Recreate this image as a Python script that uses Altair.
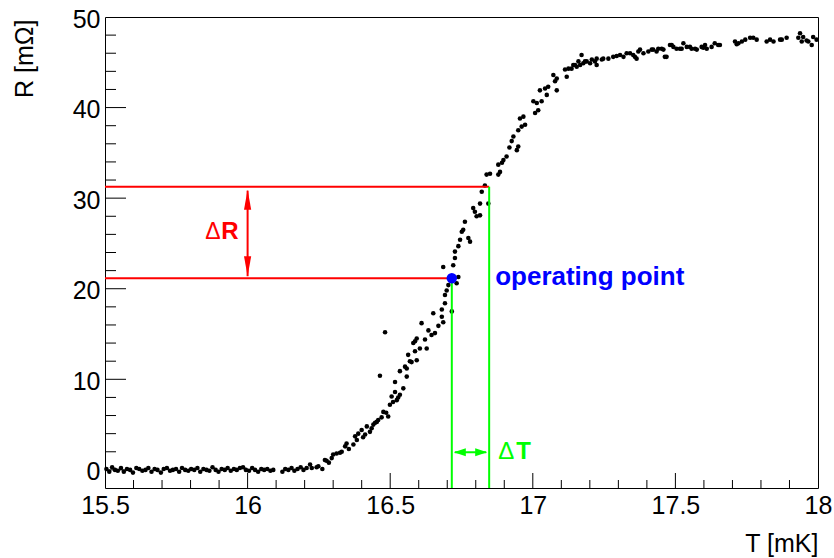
import altair as alt
import pandas as pd

# ---------------- data ----------------
T_FLAT = [15.505, 15.515, 15.525, 15.535, 15.545, 15.556, 15.566, 15.577, 15.588, 15.598,
          15.610, 15.620, 15.631, 15.642, 15.652, 15.663, 15.674, 15.684, 15.696, 15.706,
          15.717, 15.728, 15.738, 15.749, 15.760, 15.770, 15.781, 15.792, 15.802, 15.813,
          15.824, 15.834, 15.845, 15.856, 15.866, 15.877, 15.888, 15.898, 15.909, 15.920,
          15.930, 15.941, 15.952, 15.962, 15.973, 15.984, 15.994, 16.005, 16.016, 16.026,
          16.037, 16.048, 16.058, 16.069, 16.080, 16.090, 16.122, 16.132, 16.143, 16.154,
          16.164, 16.175, 16.186, 16.196, 16.207]
R_FLAT = [0.1, -0.2, 0.3, 0.0, -0.1, 0.2, -0.2, 0.1, 0.0, -0.3,
          0.2, 0.1, -0.1, 0.0, 0.2, -0.2, 0.1, 0.0, -0.3, 0.1,
          0.2, -0.1, 0.0, 0.1, -0.2, 0.2, 0.0, -0.1, 0.1, 0.0,
          0.2, -0.2, 0.1, 0.0, -0.1, 0.3, 0.0, -0.2, 0.1, 0.0,
          0.2, -0.1, 0.1, 0.0, 0.2, 0.3, 0.0, -0.1, 0.2, 0.0,
          -0.2, 0.1, 0.0, 0.1, -0.1, 0.0, -0.2, 0.1, 0.0, 0.2,
          -0.1, 0.1, 0.3, 0.0, 0.2]

T_RISE = [16.219, 16.225, 16.242, 16.248, 16.262, 16.271, 16.277, 16.285, 16.295, 16.300,
          16.312, 16.324, 16.330, 16.342, 16.347, 16.355, 16.371, 16.377, 16.383, 16.388,
          16.400, 16.405, 16.412, 16.418, 16.429, 16.435, 16.441, 16.447, 16.453, 16.458,
          16.464, 16.470, 16.476, 16.482, 16.486, 16.493, 16.499, 16.505, 16.510, 16.517,
          16.517, 16.523, 16.528, 16.534, 16.534, 16.546, 16.552, 16.558, 16.558, 16.563,
          16.569, 16.575, 16.581, 16.587, 16.587, 16.593, 16.593, 16.604, 16.610, 16.622,
          16.628, 16.634, 16.645, 16.651, 16.657, 16.669, 16.681, 16.681, 16.686, 16.692,
          16.692, 16.698, 16.686, 16.704, 16.716, 16.733, 16.739, 16.721, 16.727, 16.727,
          16.739, 16.745, 16.751, 16.756, 16.762, 16.774, 16.780, 16.791, 16.797, 16.803,
          16.815, 16.815, 16.821, 16.832, 16.844, 16.838, 16.850, 16.879, 16.885, 16.879,
          16.897, 16.908, 16.944, 16.949, 16.926, 16.932, 16.949, 16.961, 16.955, 16.973,
          16.967, 17.008, 17.019, 17.002, 17.014, 17.031, 17.049, 17.025, 17.043, 17.054,
          17.084, 17.078, 17.084, 17.072, 16.892, 16.918]
R_RISE = [0.6, 0.2, 0.3, 0.4, 0.1, 1.1, 1.0, 0.8, 1.3, 1.7,
          1.8, 1.9, 2.0, 2.6, 2.9, 2.3, 2.8, 3.7, 3.3, 4.0,
          4.4, 3.6, 3.9, 4.8, 4.2, 4.6, 5.0, 5.2, 5.3, 5.5,
          10.4, 5.8, 6.4, 15.2, 6.3, 5.9, 7.2, 8.1, 7.5, 8.6,
          9.7, 7.7, 8.0, 8.3, 10.9, 9.0, 11.4, 10.3, 11.2, 12.7,
          12.0, 11.9, 14.0, 13.1, 14.2, 14.5, 12.1, 13.4, 16.2, 14.4,
          13.4, 15.4, 14.9, 17.3, 15.1, 15.9, 16.9, 17.7, 16.3, 18.4,
          19.3, 19.8, 22.4, 20.4, 17.5, 20.6, 21.3, 22.6, 23.4, 24.1,
          24.7, 25.4, 26.3, 26.5, 27.4, 25.6, 25.2, 28.9, 28.5, 28.0,
          28.1, 29.4, 30.7, 31.4, 29.4, 32.6, 32.7, 32.6, 32.9, 33.7,
          34.2, 34.6, 35.3, 35.7, 36.3, 36.8, 37.5, 37.9, 38.8, 38.1,
          39.0, 39.4, 39.7, 40.7, 40.5, 40.7, 41.4, 41.9, 42.1, 42.3,
          41.9, 42.9, 43.2, 43.6, 33.9, 35.6]

T_TOP = [17.113, 17.119, 17.125, 17.142, 17.148, 17.160, 17.183, 17.201, 17.207, 17.224,
         17.224, 17.242, 17.247, 17.265, 17.282, 17.294, 17.306, 17.318, 17.329, 17.341,
         17.352, 17.358, 17.364, 17.370, 17.376, 17.388, 17.405, 17.417, 17.422, 17.434,
         17.440, 17.452, 17.458, 17.463, 17.469, 17.481, 17.487, 17.493, 17.504, 17.516,
         17.522, 17.528, 17.540, 17.551, 17.557, 17.569, 17.575, 17.592, 17.598, 17.604,
         17.610, 17.627, 17.638, 17.650, 17.656, 17.709, 17.715, 17.721, 17.733, 17.745,
         17.762, 17.773, 17.785, 17.820, 17.832, 17.844, 17.867, 17.873, 17.890, 17.931,
         17.937, 17.943, 17.948, 17.960, 17.966, 17.978, 17.983, 17.995, 17.136, 17.154,
         17.166, 17.171, 17.177, 17.189, 17.218]
R_TOP = [44.2, 43.4, 44.3, 44.7, 44.7, 45.1, 45.1, 44.9, 45.3, 44.7,
         45.4, 45.3, 45.4, 45.4, 45.6, 45.7, 45.8, 45.6, 46.0, 46.0,
         45.8, 45.6, 45.4, 46.2, 46.4, 46.0, 46.2, 46.4, 46.4, 46.2,
         46.5, 46.5, 46.4, 45.6, 45.6, 46.9, 46.9, 46.7, 46.5, 46.5,
         46.5, 47.1, 46.7, 46.7, 46.5, 46.5, 46.4, 46.7, 46.6, 46.9,
         46.5, 46.7, 47.1, 46.9, 46.9, 47.3, 47.0, 47.1, 47.3, 47.5,
         47.7, 47.7, 47.5, 47.3, 47.5, 47.3, 47.5, 47.5, 47.7, 47.7,
         48.2, 47.3, 47.8, 47.4, 47.3, 46.9, 47.8, 47.5, 44.3, 44.5,
         44.7, 45.8, 44.9, 45.1, 45.1]

# annotation values
T_OP, R_OP = 16.716, 21.16      # operating point
T_HI, R_HI = 16.847, 31.27      # upper working point
T_DR = 16.0                     # position of the Delta R arrow
R_DT = 1.95                     # height of the Delta T arrow
T_MIN, T_MAX = 15.5, 18.0
R_MIN, R_MAX = -2.0, 50.0

# axis ticks
X_MAJOR = [15.5, 16.0, 16.5, 17.0, 17.5, 18.0]
X_MINOR = [15.6, 15.7, 15.8, 15.9, 16.1, 16.2, 16.3, 16.4, 16.6, 16.7, 16.8, 16.9,
           17.1, 17.2, 17.3, 17.4, 17.6, 17.7, 17.8, 17.9]
Y_MAJOR = [0, 10, 20, 30, 40, 50]
Y_MINOR = [2, 4, 6, 8, 12, 14, 16, 18, 22, 24, 26, 28, 32, 34, 36, 38, 42, 44, 46, 48]

# ---------------- chart ----------------
W, H = 713, 471
FONT = "Liberation Sans"
RED, GREEN, BLUE = "#ff0000", "#00ff00", "#0000ff"

xs = alt.Scale(domain=[T_MIN, T_MAX], nice=False, zero=False)
ys = alt.Scale(domain=[R_MIN, R_MAX], nice=False, zero=False)

xaxis = alt.Axis(values=X_MAJOR, labelExpr="datum.value + ''", title="T [mK]",
                 ticks=False, tickSize=0, domain=False, grid=False,
                 labelFont=FONT, labelFontSize=25, labelColor="black",
                 labelBaseline="alphabetic", labelPadding=25, labelFlush=False,
                 labelOverlap=False, labelBound=False,
                 titleFont=FONT, titleFontSize=25, titleFontWeight="normal", titleColor="black",
                 titleAlign="right", titleBaseline="alphabetic", titleX=W, titleY=63, titleAngle=0)
yaxis = alt.Axis(values=Y_MAJOR, title="R [mΩ]",
                 ticks=False, tickSize=0, domain=False, grid=False,
                 labelFont=FONT, labelFontSize=25, labelColor="black",
                 labelBaseline="middle", labelPadding=5, labelOffset=2,
                 labelOverlap=False, labelBound=False,
                 titleFont=FONT, titleFontSize=25, titleFontWeight="normal", titleColor="black",
                 titleAngle=270, titleAlign="right", titleBaseline="alphabetic",
                 titleX=-73, titleY=2)


def X(field):
    return alt.X(field, scale=xs, axis=xaxis)


def Y(field):
    return alt.Y(field, scale=ys, axis=yaxis)


pts = pd.DataFrame({"T": T_FLAT + T_RISE + T_TOP, "R": R_FLAT + R_RISE + R_TOP})

points = alt.Chart(pts).mark_circle(size=21, color="black", opacity=1).encode(
    x=X("T:Q"), y=Y("R:Q"))

# inward tick marks (ROOT style)
xmaj = alt.Chart(pd.DataFrame({"t": X_MAJOR[1:-1]})).mark_rule(color="black", strokeWidth=1).encode(
    x=X("t:Q"), y=alt.value(H), y2=alt.value(H - 15))
xmin = alt.Chart(pd.DataFrame({"t": X_MINOR})).mark_rule(color="black", strokeWidth=1).encode(
    x=X("t:Q"), y=alt.value(H), y2=alt.value(H - 8))
ymaj = alt.Chart(pd.DataFrame({"r": Y_MAJOR[:-1]})).mark_rule(color="black", strokeWidth=1).encode(
    y=Y("r:Q"), x=alt.value(0), x2=alt.value(21))
ymin = alt.Chart(pd.DataFrame({"r": Y_MINOR})).mark_rule(color="black", strokeWidth=1).encode(
    y=Y("r:Q"), x=alt.value(0), x2=alt.value(11))

# red horizontal lines
red_h = alt.Chart(pd.DataFrame({"x1": [T_MIN, T_MIN], "x2": [T_HI, T_OP], "y": [R_HI, R_OP]})).mark_rule(
    color=RED, strokeWidth=2).encode(x=X("x1:Q"), x2="x2:Q", y=Y("y:Q"))

# green vertical lines
green_v = alt.Chart(pd.DataFrame({"x": [T_OP, T_HI], "y1": [R_MIN, R_MIN], "y2": [R_OP, R_HI]})).mark_rule(
    color=GREEN, strokeWidth=2).encode(x=X("x:Q"), y=Y("y1:Q"), y2="y2:Q")

# Delta R arrow
dr_df = pd.DataFrame({"x": [T_DR], "y1": [R_OP], "y2": [R_HI], "ym": [(R_OP + R_HI) / 2]})
dr_shaft = alt.Chart(dr_df).mark_rule(color=RED, strokeWidth=2, yOffset=-2, y2Offset=4).encode(
    x=X("x:Q"), y=Y("y1:Q"), y2="y2:Q")
dr_up = alt.Chart(dr_df).mark_point(shape="M0,-1L0.36,1L-0.36,1Z", filled=True, size=400,
                                    color=RED, opacity=1, yOffset=13).encode(
    x=X("x:Q"), y=Y("y2:Q"))
dr_dn = alt.Chart(dr_df).mark_point(shape="M0,1L0.36,-1L-0.36,-1Z", filled=True, size=400,
                                    color=RED, opacity=1, yOffset=-12).encode(
    x=X("x:Q"), y=Y("y1:Q"))
dr_txt_d = alt.Chart(dr_df).mark_text(text="Δ", align="right", baseline="middle", dx=-27,
                                      font=FONT, fontSize=23, fontWeight="normal", color=RED).encode(
    x=X("x:Q"), y=Y("ym:Q"))
dr_txt_r = alt.Chart(dr_df).mark_text(text="R", align="right", baseline="middle", dx=-9,
                                      font=FONT, fontSize=24, fontWeight="bold", color=RED).encode(
    x=X("x:Q"), y=Y("ym:Q"))

# Delta T arrow
dt_df = pd.DataFrame({"x1": [T_OP], "x2": [T_HI], "y": [R_DT]})
dt_shaft = alt.Chart(dt_df).mark_rule(color=GREEN, strokeWidth=2, xOffset=3, x2Offset=-3).encode(
    x=X("x1:Q"), x2="x2:Q", y=Y("y:Q"))
dt_l = alt.Chart(dt_df).mark_point(shape="M-1,0L1,-0.67L1,0.67Z", filled=True, size=144,
                                   color=GREEN, opacity=1, xOffset=8).encode(
    x=X("x1:Q"), y=Y("y:Q"))
dt_r = alt.Chart(dt_df).mark_point(shape="M1,0L-1,-0.67L-1,0.67Z", filled=True, size=144,
                                   color=GREEN, opacity=1, xOffset=-8).encode(
    x=X("x2:Q"), y=Y("y:Q"))
dt_txt_d = alt.Chart(dt_df).mark_text(text="Δ", align="left", baseline="middle", dx=9,
                                      font=FONT, fontSize=24, fontWeight="normal", color=GREEN).encode(
    x=X("x2:Q"), y=Y("y:Q"))
dt_txt_t = alt.Chart(dt_df).mark_text(text="T", align="left", baseline="middle", dx=27,
                                      font=FONT, fontSize=24, fontWeight="bold", color=GREEN).encode(
    x=X("x2:Q"), y=Y("y:Q"))

# operating point
op_df = pd.DataFrame({"x": [T_OP], "y": [R_OP], "xl": [T_HI]})
op_pt = alt.Chart(op_df).mark_circle(size=110, color=BLUE, opacity=1).encode(
    x=X("x:Q"), y=Y("y:Q"))
op_txt = alt.Chart(op_df).mark_text(text="operating point", align="left", baseline="alphabetic",
                                    dx=6, dy=7, font=FONT, fontSize=26, fontWeight="bold",
                                    color=BLUE).encode(
    x=X("xl:Q"), y=Y("y:Q"))

chart = alt.layer(
    points, xmaj, xmin, ymaj, ymin, red_h, green_v,
    dr_shaft, dr_up, dr_dn, dr_txt_d, dr_txt_r, dt_shaft, dt_l, dt_r, dt_txt_d, dt_txt_t,
    op_pt, op_txt,
).properties(
    width=W, height=H,
    autosize=alt.AutoSizeParams(type="none"),
    padding={"left": 105, "top": 17, "right": 16, "bottom": 70},
).configure(background="white").configure_view(stroke="black", strokeWidth=1)

chart.save("out.html", embed_options={"renderer": "svg", "actions": False})
